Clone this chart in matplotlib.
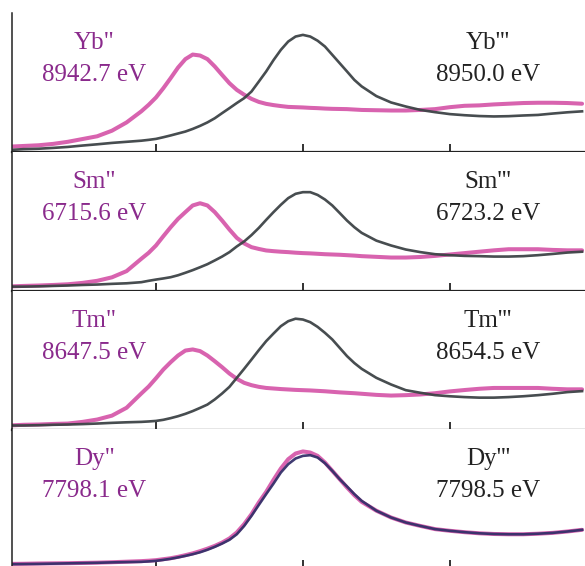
import numpy as np
import matplotlib
matplotlib.use("Agg")
import matplotlib.pyplot as plt

plt.rcParams['font.family'] = ['Liberation Serif', 'DejaVu Serif']

# energy relative to the edge (eV), same grid for every spectrum
energy = [-9.9, -9.5, -9.0, -8.5, -8.0, -7.5, -7.0, -6.5, -6.0,
          -5.5, -5.25, -5.0, -4.75, -4.5, -4.25, -4.0, -3.75, -3.5, -3.25,
          -3.0, -2.75, -2.5, -2.25, -2.0, -1.75, -1.5, -1.25, -1.0, -0.75,
          -0.5, -0.25, 0.0, 0.25, 0.5, 0.75, 1.0, 1.25, 1.5, 1.75, 2.0,
          2.5, 3.0, 3.5, 4.0, 4.5, 5.0, 5.5, 6.0, 6.5, 7.0, 7.5, 8.0, 8.5, 9.0, 9.5]

# divalent (magenta) spectra
yb2 = [0.036, 0.04, 0.045, 0.055, 0.07, 0.09, 0.11, 0.15, 0.21,
       0.29, 0.337, 0.39, 0.457, 0.53, 0.606, 0.667, 0.70, 0.693, 0.667,
       0.614, 0.553, 0.493, 0.445, 0.41, 0.38, 0.358, 0.344, 0.335, 0.328,
       0.322, 0.32, 0.318, 0.315, 0.313, 0.31, 0.308, 0.307, 0.306, 0.303, 0.30,
       0.298, 0.296, 0.296, 0.30, 0.306, 0.32, 0.33, 0.333, 0.34, 0.345, 0.35, 0.352, 0.352, 0.35, 0.345]
sm2 = [0.03, 0.033, 0.036, 0.04, 0.045, 0.055, 0.07, 0.095, 0.14,
       0.229, 0.272, 0.325, 0.392, 0.457, 0.517, 0.566, 0.614, 0.63, 0.614,
       0.566, 0.505, 0.44, 0.38, 0.34, 0.313, 0.30, 0.289, 0.284, 0.28,
       0.277, 0.273, 0.27, 0.268, 0.265, 0.262, 0.26, 0.258, 0.255, 0.252, 0.248,
       0.243, 0.238, 0.238, 0.242, 0.25, 0.26, 0.27, 0.28, 0.29, 0.298, 0.298, 0.298, 0.293, 0.29, 0.29]
tm2 = [0.03, 0.034, 0.036, 0.04, 0.043, 0.055, 0.072, 0.10, 0.157,
       0.26, 0.31, 0.37, 0.433, 0.486, 0.534, 0.57, 0.578, 0.566, 0.534,
       0.493, 0.45, 0.404, 0.366, 0.337, 0.32, 0.308, 0.30, 0.296, 0.292,
       0.289, 0.286, 0.284, 0.282, 0.279, 0.276, 0.272, 0.268, 0.265, 0.262, 0.258,
       0.25, 0.245, 0.248, 0.253, 0.262, 0.275, 0.285, 0.294, 0.30, 0.30, 0.30, 0.30, 0.294, 0.29, 0.29]
dy2 = [0.026, 0.027, 0.029, 0.03, 0.031, 0.033, 0.035, 0.038, 0.042,
       0.046, 0.049, 0.053, 0.06, 0.067, 0.077, 0.089, 0.102, 0.118, 0.136,
       0.156, 0.18, 0.21, 0.253, 0.313, 0.385, 0.47, 0.546, 0.633, 0.715,
       0.782, 0.823, 0.838, 0.83, 0.806, 0.758, 0.698, 0.638, 0.578, 0.522, 0.474,
       0.41, 0.361, 0.325, 0.30, 0.277, 0.265, 0.255, 0.247, 0.242, 0.24, 0.24, 0.244, 0.25, 0.26, 0.272]

# trivalent (dark) spectra
yb3 = [0.012, 0.017, 0.02, 0.026, 0.033, 0.043, 0.052, 0.062, 0.07,
       0.078, 0.084, 0.091, 0.103, 0.116, 0.13, 0.144, 0.163, 0.185, 0.21,
       0.24, 0.277, 0.313, 0.35, 0.385, 0.433, 0.505, 0.578, 0.66, 0.734,
       0.794, 0.83, 0.842, 0.83, 0.80, 0.758, 0.698, 0.638, 0.578, 0.517, 0.47,
       0.40, 0.354, 0.325, 0.30, 0.284, 0.27, 0.262, 0.256, 0.253, 0.255, 0.26, 0.264, 0.274, 0.283, 0.29]
sm3 = [0.028, 0.028, 0.03, 0.033, 0.036, 0.04, 0.043, 0.048, 0.052,
       0.06, 0.07, 0.079, 0.087, 0.096, 0.11, 0.128, 0.147, 0.168, 0.19,
       0.217, 0.245, 0.277, 0.318, 0.354, 0.40, 0.452, 0.51, 0.566, 0.619,
       0.667, 0.698, 0.71, 0.71, 0.69, 0.657, 0.614, 0.56, 0.505, 0.457, 0.416,
       0.36, 0.325, 0.296, 0.277, 0.262, 0.255, 0.25, 0.248, 0.245, 0.245, 0.248, 0.255, 0.264, 0.274, 0.28]
tm3 = [0.029, 0.029, 0.031, 0.034, 0.036, 0.039, 0.043, 0.048, 0.052,
       0.055, 0.058, 0.062, 0.07, 0.082, 0.096, 0.113, 0.133, 0.156, 0.18,
       0.217, 0.26, 0.308, 0.373, 0.438, 0.505, 0.573, 0.638, 0.693, 0.746,
       0.782, 0.80, 0.794, 0.775, 0.741, 0.698, 0.65, 0.59, 0.53, 0.48, 0.438,
       0.373, 0.325, 0.284, 0.265, 0.248, 0.24, 0.234, 0.23, 0.23, 0.234, 0.24, 0.248, 0.258, 0.27, 0.277]
dy3 = [0.024, 0.025, 0.026, 0.028, 0.03, 0.032, 0.034, 0.037, 0.039,
       0.041, 0.044, 0.048, 0.055, 0.063, 0.073, 0.084, 0.096, 0.11, 0.128,
       0.149, 0.173, 0.20, 0.24, 0.30, 0.373, 0.452, 0.53, 0.606, 0.686,
       0.746, 0.787, 0.806, 0.811, 0.794, 0.753, 0.698, 0.638, 0.585, 0.53, 0.481,
       0.41, 0.361, 0.325, 0.30, 0.277, 0.265, 0.255, 0.247, 0.242, 0.24, 0.24, 0.244, 0.25, 0.26, 0.272]

elements = ['Yb', 'Sm', 'Tm', 'Dy']
edge2 = ['8942.7 eV', '6715.6 eV', '8647.5 eV', '7798.1 eV']
edge3 = ['8950.0 eV', '6723.2 eV', '8654.5 eV', '7798.5 eV']
div_spectra = [yb2, sm2, tm2, dy2]
tri_spectra = [yb3, sm3, tm3, dy3]

MAGENTA = '#d452a6'
LABEL_MAG = '#8a2a8c'
DARK = ['#3d4346', '#3d4346', '#3d4346', '#35306a']

W, H = 585, 566
fig = plt.figure(figsize=(W / 100, H / 100), dpi=100)

left, right = 12, 585
tops = [13, 152, 291, 429]
height = 138.5

for i in range(4):
    top = tops[i]
    ax = fig.add_axes([left / W, 1 - (top + height) / H, (right - left) / W, height / H])
    ax.plot(energy, div_spectra[i], color=MAGENTA, lw=2.9, alpha=0.9,
            solid_joinstyle='round', solid_capstyle='round')
    ax.plot(energy, tri_spectra[i], color=DARK[i], lw=1.9, alpha=0.95,
            solid_joinstyle='round')

    ax.set_xlim(-9.9, 9.6)
    ax.set_ylim(0, 1)
    for s in ['top', 'right']:
        ax.spines[s].set_visible(False)
    ax.spines['left'].set_linewidth(1.1)
    ax.spines['bottom'].set_linewidth(1.6)
    ax.spines['left'].set_color('#222222')
    ax.spines['bottom'].set_color('#222222')
    ax.set_xticks([-5, 0, 5])
    ax.set_yticks([])
    ax.tick_params(axis='x', direction='in', length=6, width=1.3,
                   color='#222222', labelbottom=False)

    ax.text(-7.1, 0.78, elements[i] + '"', color=LABEL_MAG, fontsize=18,
            ha='center', va='center')
    ax.text(-7.1, 0.555, edge2[i], color=LABEL_MAG, fontsize=18,
            ha='center', va='center')
    ax.text(6.3, 0.78, elements[i] + "'''", color='#222222', fontsize=18,
            ha='center', va='center')
    ax.text(6.3, 0.555, edge3[i], color='#222222', fontsize=18,
            ha='center', va='center')

fig.savefig('out.png', dpi=100)
